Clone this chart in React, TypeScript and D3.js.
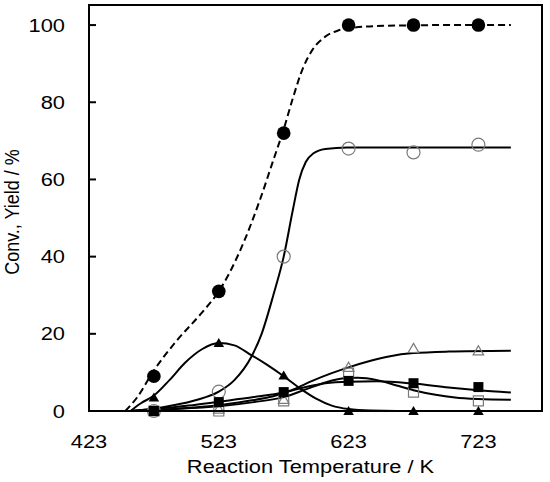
import React from "react";
import * as d3 from "d3";

// Measured points (K, %)
const temps = [473, 523, 573, 623, 673, 723];
const conversion = [9, 31, 72, 100, 100, 100];
const yieldOpenCircle = [0, 5, 40, 68, 67, 69];
const yieldFilledTriangle = [3.5, 17.6, 9.2, 0, 0, 0];
const yieldOpenTriangle = [0, 0.5, 3, 11.3, 16.2, 15.6];
const yieldFilledSquare = [0, 2.3, 4.9, 7.8, 7.2, 6.2];
const yieldOpenSquare = [0, 0, 2.6, 9.8, 4.9, 2.6];

// Fitted curves: [K, %]
const curveConversion: [number, number][] = [
  [451, 0], [460, 3.5], [473, 10.5], [490, 18], [510, 25.5], [523, 31], [540, 42],
  [555, 55], [565, 65], [573, 73], [580, 81], [588, 89], [595, 93.5], [605, 97],
  [615, 98.6], [623, 99.2], [650, 99.8], [700, 100], [748, 100],
];
const curveOpenCircle: [number, number][] = [
  [455, 0], [473, 0.6], [490, 1.6], [505, 2.8], [523, 5], [535, 8], [548, 14],
  [556, 20], [565, 30], [573, 40], [580, 52], [585, 60], [590, 64.5], [596, 66.8],
  [605, 67.9], [622, 68.3], [660, 68.3], [748, 68.3],
];
const curveFilledTriangle: [number, number][] = [
  [455, 0], [463, 2], [473, 4], [485, 8], [497, 12.5], [510, 16], [523, 17.6],
  [535, 17], [548, 14.5], [560, 12], [573, 9], [585, 6], [598, 3.2], [610, 1.4],
  [623, 0.5], [640, 0.1], [660, 0], [748, 0],
];
const curveOpenTriangle: [number, number][] = [
  [455, 0], [480, 0.3], [500, 0.8], [523, 1.5], [545, 2.6], [565, 3.8], [580, 5.5],
  [595, 7.8], [610, 9.8], [623, 11.3], [640, 13], [655, 14.2], [673, 15], [700, 15.4],
  [748, 15.6],
];
const curveFilledSquare: [number, number][] = [
  [455, 0], [473, 0.5], [500, 1.4], [523, 2.4], [550, 3.6], [573, 4.8], [590, 6.2],
  [605, 7.2], [623, 7.6], [645, 7.7], [673, 7.1], [700, 6.1], [723, 5.4], [748, 4.8],
];
const curveOpenSquare: [number, number][] = [
  [455, 0], [480, 0.4], [523, 1.2], [550, 2.3], [573, 3.6], [590, 5.6], [605, 7.4],
  [618, 8.4], [630, 8.6], [645, 8], [660, 6.6], [673, 5.4], [690, 4.2], [705, 3.5],
  [723, 3.1], [748, 2.9],
];

const xTicks = [423, 523, 623, 723];
const yTicks = [0, 20, 40, 60, 80, 100];

const W = 550;
const H = 482;
const M = { left: 89, right: 8, top: 5, bottom: 71 };
const SX = 1.15;

export default function App() {
  const x = d3.scaleLinear().domain([423, 772]).range([M.left, W - M.right]);
  const y = d3.scaleLinear().domain([0, 105.2]).range([H - M.bottom, M.top]);
  const line = d3
    .line<[number, number]>()
    .x((d) => x(d[0]))
    .y((d) => y(d[1]))
    .curve(d3.curveMonotoneX);

  const font = "'Liberation Sans', Arial, sans-serif";
  const tri = d3.symbol().type(d3.symbolTriangle).size(48)() as string;
  const sq = d3.symbol().type(d3.symbolSquare).size(100)() as string;
  const gray = "#7a7a7a";

  const curves = [
    { d: curveOpenCircle },
    { d: curveFilledTriangle },
    { d: curveOpenTriangle },
    { d: curveFilledSquare },
    { d: curveOpenSquare },
  ];

  return (
    <svg
      width={W}
      height={H}
      style={{ position: "fixed", left: 0, top: 0, background: "#fff" }}
      fontFamily={font}
    >
      <rect x={0} y={0} width={W} height={H} fill="#fff" />
      {/* curves */}
      {curves.map((c, i) => (
        <path key={i} d={line(c.d) as string} fill="none" stroke="#000" strokeWidth={2} />
      ))}
      <path
        d={line(curveConversion) as string}
        fill="none"
        stroke="#000"
        strokeWidth={2}
        strokeDasharray="7,4"
      />
      {/* markers */}
      {temps.map((t, i) => (
        <g key={"m" + i}>
          <circle cx={x(t)} cy={y(yieldOpenCircle[i])} r={6.5} fill="none" stroke={gray} strokeWidth={1.2} />
          <path d={sq} transform={`translate(${x(t)},${y(yieldOpenSquare[i])})`} fill="none" stroke={gray} strokeWidth={1.2} />
          <path d={tri} transform={`translate(${x(t)},${y(yieldOpenTriangle[i]) + 1})`} fill="none" stroke={gray} strokeWidth={1.2} />
          <path d={sq} transform={`translate(${x(t)},${y(yieldFilledSquare[i])})`} fill="#000" />
          <path d={tri} transform={`translate(${x(t)},${y(yieldFilledTriangle[i]) + 1})`} fill="#000" />
          <circle cx={x(t)} cy={y(conversion[i])} r={6.8} fill="#000" />
        </g>
      ))}
      {/* frame */}
      <rect
        x={M.left}
        y={M.top}
        width={W - M.right - M.left}
        height={H - M.bottom - M.top}
        fill="none"
        stroke="#000"
        strokeWidth={2}
      />
      {/* y ticks */}
      {yTicks.map((v) => (
        <g key={"y" + v}>
          <line x1={M.left} x2={M.left + 7} y1={y(v)} y2={y(v)} stroke="#000" strokeWidth={2} />
          <text
            transform={`translate(${M.left - 24},${y(v)}) scale(${SX},1)`}
            dy="0.35em"
            textAnchor="end"
            fontSize={19}
            fill="#000"
          >
            {v}
          </text>
        </g>
      ))}
      {xTicks.map((v) => (
        <text
          key={"x" + v}
          transform={`translate(${x(v)},${H - M.bottom + 37}) scale(${SX},1)`}
          textAnchor="middle"
          fontSize={19}
          fill="#000"
        >
          {v}
        </text>
      ))}
      <text
        transform={`translate(${(M.left + W - M.right) / 2 - 5},${H - 9}) scale(${SX},1)`}
        textAnchor="middle"
        fontSize={19}
        fill="#000"
      >
        Reaction Temperature / K
      </text>
      <text
        transform={`translate(19,${(M.top + H - M.bottom) / 2 + 4}) rotate(-90) scale(1,${SX})`}
        textAnchor="middle"
        fontSize={18}
        fill="#000"
      >
        Conv., Yield / %
      </text>
    </svg>
  );
}
